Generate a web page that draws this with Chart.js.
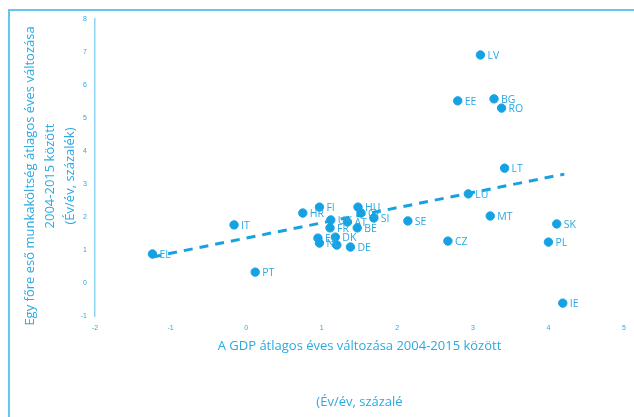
<!DOCTYPE html>
<html>
<head>
<meta charset="utf-8">
<script src="https://cdn.jsdelivr.net/npm/chart.js@4"></script>
<style>
  html, body { margin: 0; padding: 0; background: #fff; }
  #wrap { position: relative; width: 634px; height: 417px; }
  #frame { position: absolute; left: 8px; top: 9px; right: 0; bottom: 0;
           border-top: 2px solid #62c6f0; border-left: 2px solid #62c6f0; }
  canvas { position: absolute; left: 0; top: 0; }
</style>
</head>
<body>
<div id="wrap">
  <div id="frame"></div>
  <canvas id="chart" width="634" height="417"></canvas>
</div>
<script>
// országkódok és értékek (GDP változás, munkaköltség változás)
const countries = ['LV', 'EE', 'BG', 'RO', 'LT', 'LU', 'MT', 'SK', 'PL', 'IE', 'CZ', 'SE', 'PT', 'EL', 'IT',
  'HR', 'FI', 'HU', 'CY', 'SI', 'UK', 'AT', 'FR', 'BE', 'ES', 'DK', 'NL', '', 'DE'];
const gdpGrowth = [3.10, 2.80, 3.28, 3.38, 3.42, 2.94, 3.23, 4.11, 4.00, 4.19, 2.67, 2.14, 0.12, -1.24, -0.16,
  0.75, 0.97, 1.48, 1.52, 1.69, 1.12, 1.34, 1.11, 1.47, 0.95, 1.18, 0.97, 1.20, 1.38];
const laborCostGrowth = [6.91, 5.52, 5.58, 5.30, 3.48, 2.70, 2.03, 1.79, 1.24, -0.61, 1.27, 1.88, 0.33, 0.88, 1.76,
  2.12, 2.30, 2.30, 2.12, 1.97, 1.91, 1.85, 1.67, 1.67, 1.36, 1.39, 1.21, 1.15, 1.09];

// trendvonal két végpontja
const trendX = [-1.24, 4.21];
const trendY = [0.79, 3.30];

const xTicks = [-2, -1, 0, 1, 2, 3, 4, 5];
const yTicks = [-1, 0, 1, 2, 3, 4, 5, 6, 7, 8];

const xTitle = 'A GDP átlagos éves változása 2004-2015 között';
const xSubTitle = '(Év/év, százalé';
const yTitle = ['Egy főre eső munkaköltség átlagos éves változása', '2004-2015 között', '(Év/év, százalék)'];

const BLUE = '#16a2e2';
const TEXT = '#2aa9e2';

const pointLabels = {
  id: 'pointLabels',
  afterDatasetsDraw(chart) {
    const ctx = chart.ctx;
    const meta = chart.getDatasetMeta(0);
    ctx.save();
    ctx.fillStyle = TEXT;
    ctx.font = '10.5px "Open Sans", sans-serif';
    ctx.textBaseline = 'middle';
    meta.data.forEach((pt, i) => {
      if (countries[i]) ctx.fillText(countries[i], pt.x + 7, pt.y + 1);
    });
    ctx.restore();
  }
};

const axisTitles = {
  id: 'axisTitles',
  afterDraw(chart) {
    const ctx = chart.ctx;
    const a = chart.chartArea;
    const cx = (a.left + a.right) / 2;
    ctx.save();
    ctx.fillStyle = TEXT;
    ctx.textAlign = 'center';
    ctx.textBaseline = 'middle';
    ctx.font = '13px "Open Sans", sans-serif';
    ctx.fillText(xTitle, cx, 346);
    ctx.fillText(xSubTitle, cx, 402);
    ctx.translate(0, 176);
    ctx.rotate(-Math.PI / 2);
    yTitle.forEach((line, i) => ctx.fillText(line, 0, 30 + i * 20));
    ctx.restore();
  }
};

new Chart(document.getElementById('chart'), {
  type: 'scatter',
  data: {
    datasets: [{
      data: gdpGrowth.map((x, i) => ({ x: x, y: laborCostGrowth[i] })),
      backgroundColor: BLUE,
      borderColor: BLUE,
      pointRadius: 4.2,
      pointHoverRadius: 4.2
    }, {
      type: 'line',
      data: trendX.map((x, i) => ({ x: x, y: trendY[i] })),
      borderColor: BLUE,
      borderWidth: 3,
      borderDash: [9, 7],
      pointRadius: 0,
      fill: false
    }]
  },
  options: {
    responsive: false,
    animation: false,
    layout: { padding: { top: 19, right: 10, left: 0, bottom: 0 } },
    plugins: { legend: { display: false }, tooltip: { enabled: false } },
    scales: {
      x: {
        type: 'linear',
        min: -2, max: 5,
        afterBuildTicks: s => { s.ticks = xTicks.map(v => ({ value: v })); },
        afterFit: s => { s.height = 101; },
        grid: { display: false, drawTicks: false },
        border: { display: false },
        ticks: { color: TEXT, font: { size: 7 }, padding: 8 }
      },
      y: {
        type: 'linear',
        min: -1, max: 8,
        afterBuildTicks: s => { s.ticks = yTicks.map(v => ({ value: v })); },
        afterFit: s => { s.width = 95; },
        grid: { display: false, drawTicks: false },
        border: { display: true, color: '#8fd3f2', width: 1.5 },
        ticks: { color: TEXT, font: { size: 7 }, padding: 8 }
      }
    }
  },
  plugins: [pointLabels, axisTitles]
});
</script>
</body>
</html>
